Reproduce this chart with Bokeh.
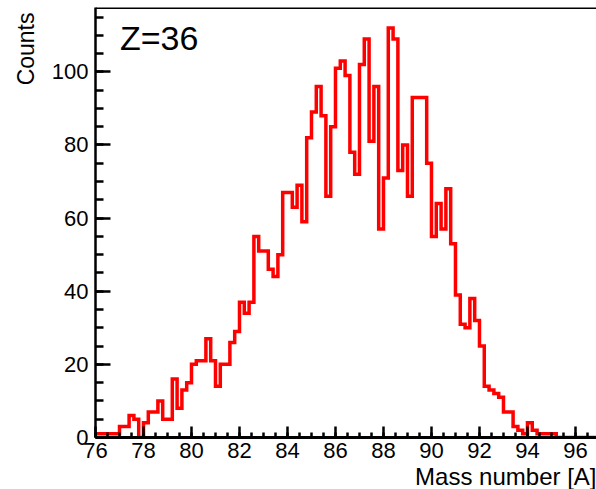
from bokeh.plotting import figure
from bokeh.models import Range1d, FixedTicker, Label, Span, Title
from bokeh.embed import file_html
from bokeh.resources import INLINE

# Histogram of mass numbers for Z=36, bins of 0.2 starting at A=76.0
first_edge = 76.0
bin_width = 0.2
counts = [
    1, 1, 1, 1, 1, 3, 3, 6, 5, 0,            # 76.0 - 77.8
    4, 7, 7, 10, 5, 5, 16, 8, 13, 15,        # 78.0 - 79.8
    20, 21, 21, 27, 21, 14, 20, 20, 26, 29,  # 80.0 - 81.8
    37, 34, 37, 55, 51, 51, 46, 44, 50, 67,  # 82.0 - 83.8
    67, 63, 69, 59, 82, 89, 96, 88, 66, 85,  # 84.0 - 85.8
    101, 103, 99, 78, 72, 102, 109, 81, 96, 57,  # 86.0 - 87.8
    71, 112, 109, 73, 80, 66, 93, 93, 93, 75,    # 88.0 - 89.8
    55, 64, 57, 68, 53, 39, 31, 30, 38, 32,  # 90.0 - 91.8
    25, 14, 13, 12, 11, 7, 7, 3, 2, 1,       # 92.0 - 93.8
    4, 2, 1, 1, 1, 1, 0, 0, 0, 0,            # 94.0 - 95.8
    0, 0, 0, 0, 0,                           # 96.0 - 96.8
]

x_major = [76, 78, 80, 82, 84, 86, 88, 90, 92, 94, 96]
x_minor = [76 + 0.5 * i for i in range(42)]
y_major = [0, 20, 40, 60, 80, 100]
y_minor = [5 * i for i in range(24)]

x_lo, x_hi = 76.0, 96.876
y_lo, y_hi = 0.0, 117.6

edges = [first_edge + i * bin_width for i in range(len(counts) + 1)]
step_x = edges
step_y = counts + [counts[-1]]

p = figure(
    width=596, height=489,
    x_range=Range1d(x_lo, x_hi), y_range=Range1d(y_lo, y_hi),
    output_backend="svg", toolbar_location=None,
    min_border_left=95, min_border_right=0,
    min_border_top=7, min_border_bottom=51,
)
p.background_fill_color = "white"
p.border_fill_color = "white"
p.outline_line_color = None
p.xgrid.visible = False
p.ygrid.visible = False

p.step(x=step_x, y=step_y, mode="after",
       line_color="#ff0000", line_width=3.5, line_join="miter")

# frame top edge
p.add_layout(Span(location=y_hi, dimension="width",
                  line_color="black", line_width=3))

font = "Liberation Sans"

xa = p.xaxis[0]
xa.ticker = FixedTicker(ticks=x_major, minor_ticks=x_minor)
xa.axis_line_width = 3
xa.major_tick_line_width = 2.5
xa.minor_tick_line_width = 2.5
xa.major_tick_in = 11
xa.major_tick_out = 0
xa.minor_tick_in = 5
xa.minor_tick_out = 0
xa.major_label_standoff = 5
xa.major_label_text_font = font
xa.major_label_text_font_size = "22px"
xa.major_label_text_color = "black"

ya = p.yaxis[0]
ya.ticker = FixedTicker(ticks=y_major, minor_ticks=y_minor)
ya.axis_line_width = 2.5
ya.major_tick_line_width = 2.5
ya.minor_tick_line_width = 2.5
ya.major_tick_in = 15
ya.major_tick_out = 0
ya.minor_tick_in = 8
ya.minor_tick_out = 0
ya.major_label_standoff = 7
ya.major_label_text_font = font
ya.major_label_text_font_size = "22px"
ya.major_label_text_color = "black"

# axis titles, aligned toward the axis ends
p.add_layout(Title(text="Mass number [A]", align="right", standoff=0,
                   text_font=font, text_font_size="24px",
                   text_font_style="normal", text_color="black"), "below")
p.add_layout(Title(text="Counts", align="right", standoff=20, offset=5,
                   text_font=font, text_font_size="23px",
                   text_font_style="normal", text_color="black"), "left")

p.add_layout(Label(x=77.02, y=109.3, text="Z=36",
                   text_font=font, text_font_size="34px",
                   text_color="black", text_align="left",
                   text_baseline="alphabetic"))

open("out.html", "w").write(file_html(p, INLINE))
